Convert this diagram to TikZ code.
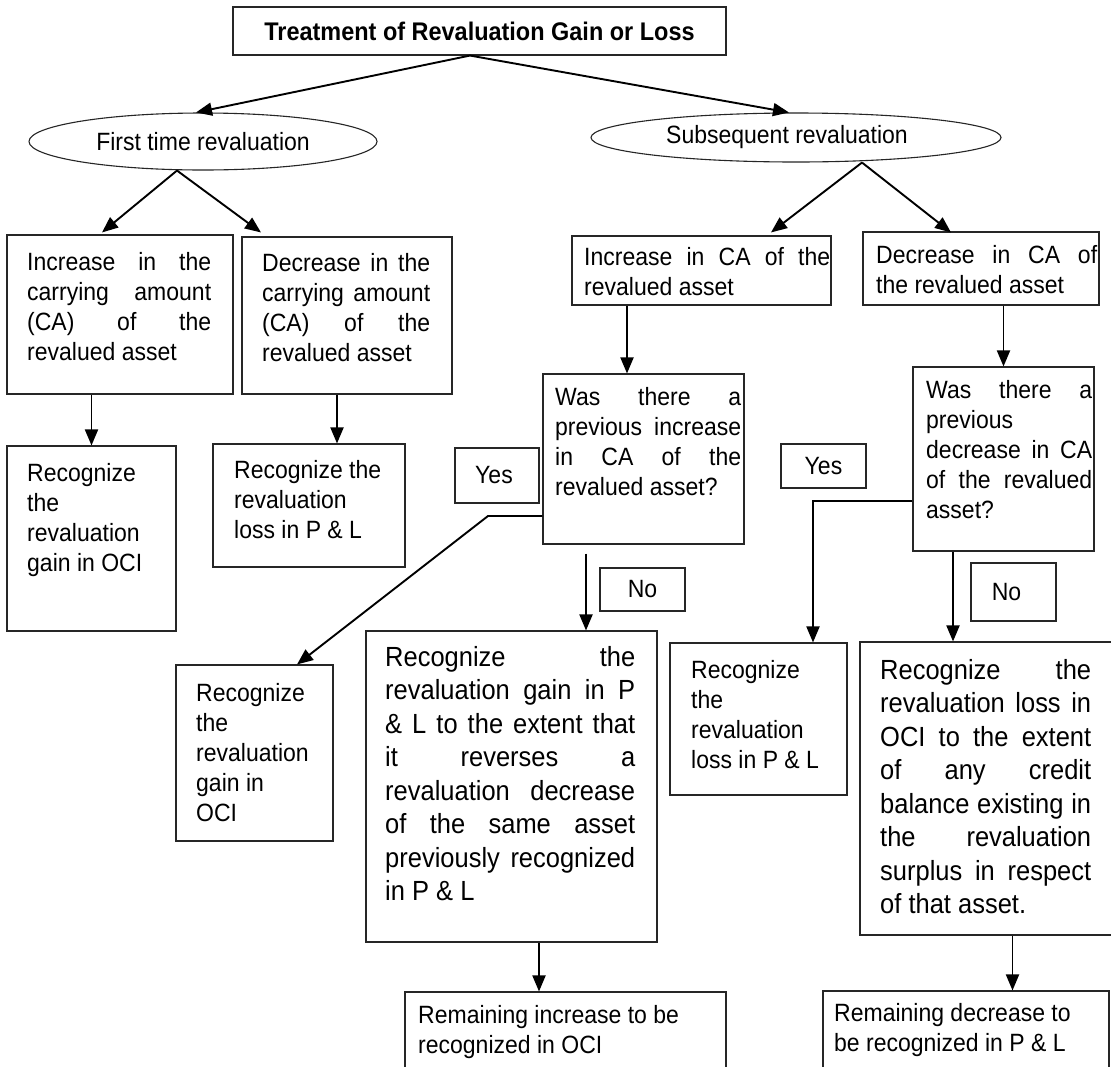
\documentclass[tikz,border=0pt]{standalone}
\usepackage{fontspec}
\setmainfont{Liberation Sans}[FakeStretch=0.92]
\usetikzlibrary{arrows.meta,shapes.geometric}
\newcommand\jl[2]{\hbox to #1pt{\spaceskip=.25em plus 1fil\relax #2}}
\newcommand\bx[5]{\node[box, minimum width={#4-#2}, minimum height={#5-#3}] (#1) at ({(#2+#4)/2},{(#3+#5)/2}) {};}
\tikzset{
 box/.style={draw=black!85, line width=1.1pt, inner sep=0pt},
 arr/.style={line width=1.9pt, -{Triangle[length=16pt,width=13pt]}},
 txt/.style={inner sep=0pt, anchor=north west, align=left, font=\fontsize{25}{30}\selectfont},
 bigtxt/.style={inner sep=0pt, anchor=north west, align=left, font=\fontsize{27.7}{33.5}\selectfont},
 lbl/.style={box, font=\fontsize{25}{28}\selectfont},
 ell/.style={draw=black!85, line width=1.1pt, ellipse, inner sep=0pt, font=\fontsize{25}{28}\selectfont},
}
\begin{document}
\begin{tikzpicture}[x=1pt,y=-1pt]
\clip (0,0) rectangle (1111,1066);
\fill[white] (0,0) rectangle (1111,1066);
% title
\node[box, minimum width=493, minimum height=48, font=\bfseries\fontsize{25.5}{28}\selectfont] (T) at (479.5,31) {Treatment of Revaluation Gain or Loss};
% ellipses
\node[ell, minimum width=348, minimum height=57] (E1) at (203,141.5) {First time revaluation};
\node[ell, minimum width=410, minimum height=49] (E2) at (796,137.5) {Subsequent revaluation\hspace*{18pt}};
% boxes
\bx{A}{7}{235}{233}{394}
\bx{B}{242}{237}{452}{394}
\bx{C}{7}{446}{176}{631}
\bx{D}{213}{444}{405}{567}
\bx{E}{572}{236}{831}{305}
\bx{F}{863}{232}{1099}{305}
\bx{G}{543}{374}{744}{544}
\bx{H}{913}{367}{1094}{551}
\bx{I}{176}{665}{333}{841}
\bx{J}{366}{631}{657}{942}
\bx{K}{670}{643}{847}{795}
\bx{L}{860}{642}{1125}{935}
\bx{M}{405}{992}{726}{1100}
\bx{N}{823}{991}{1109}{1100}
% yes / no labels
\node[lbl, minimum width=84, minimum height=55] (YL) at (497,475.5) {Yes\hspace*{6pt}};
\node[lbl, minimum width=85, minimum height=44] (YR) at (823.5,466) {Yes};
\node[lbl, minimum width=85, minimum height=43] (NL) at (642.5,589.5) {No};
\node[lbl, minimum width=85, minimum height=58] (NR) at (1013.5,592) {No\hspace*{14pt}};
% texts
\node[txt] (At) at (27,249) {\strut\jl{184}{Increase in the}\\\jl{184}{carrying amount}\\\jl{184}{(CA) of the}\\revalued asset};
\node[txt] (Bt) at (262,250) {\strut\jl{168}{Decrease in the}\\\jl{168}{carrying amount}\\\jl{168}{(CA) of the}\\revalued asset};
\node[txt] (Ct) at (27,460) {\strut Recognize\\the\\revaluation\\gain in OCI};
\node[txt] (Dt) at (234,457) {\strut Recognize the\\revaluation\\loss in P \& L};
\node[txt] (Et) at (584,244) {\strut\jl{246}{Increase in CA of the}\\revalued asset};
\node[txt] (Ft) at (876,242) {\strut\jl{221}{Decrease in CA of}\\the revalued asset};
\node[txt] (Gt) at (555,384) {\strut\jl{186}{Was there a}\\\jl{186}{previous increase}\\\jl{186}{in CA of the}\\revalued asset?};
\node[txt] (Ht) at (926,377) {\strut\jl{166}{Was there a}\\previous\\\jl{166}{decrease in CA}\\\jl{166}{of the revalued}\\asset?};
\node[txt] (It) at (196,680) {\strut Recognize\\the\\revaluation\\gain in\\OCI};
\node[txt] (Kt) at (691,657) {\strut Recognize\\the\\revaluation\\loss in P \& L};
\node[bigtxt] (Jt) at (385,642.5) {\strut\jl{250}{Recognize the}\\\jl{250}{revaluation gain in P}\\\jl{250}{\& L to the extent that}\\\jl{250}{it reverses a}\\\jl{250}{revaluation decrease}\\\jl{250}{of the same asset}\\\jl{250}{previously recognized}\\in P \& L};
\node[bigtxt] (Lt) at (880,655.5) {\strut\jl{211}{Recognize the}\\\jl{211}{revaluation loss in}\\\jl{211}{OCI to the extent}\\\jl{211}{of any credit}\\\jl{211}{balance existing in}\\\jl{211}{the revaluation}\\\jl{211}{surplus in respect}\\of that asset.};
\node[txt] (Mt) at (418,1002) {\strut Remaining increase to be\\recognized in OCI};
\node[txt] (Nt) at (834,1000) {\strut Remaining decrease to\\be recognized in P \& L};
% helper coordinates
\coordinate (t0) at ([xshift=-9.5pt]T.south);
\coordinate (b1) at ([xshift=-10pt]B.south);
\coordinate (e1) at ([xshift=-74.5pt]E.south);
\coordinate (g0) at ([yshift=-57pt]G.west);
\coordinate (gb) at (488,516);
\coordinate (g2) at ([xshift=-57.5pt,yshift=-9pt]G.south);
\coordinate (h0) at ([yshift=-42pt]H.west);
\coordinate (h2) at ([xshift=-50.5pt]H.south);
\coordinate (j1) at ([xshift=27.5pt]J.south);
\coordinate (l1) at ([xshift=20pt]L.south);
% connectors
\draw[arr] (t0) -- ([xshift=-7pt]E1.north);
\draw[arr] (t0) -- ([xshift=-7pt]E2.north);
\draw[arr] ([xshift=-26pt]E1.south) -- ([xshift=-18pt,yshift=2pt]A.north);
\draw[arr] ([xshift=-26pt]E1.south) -- ([xshift=-86pt,yshift=4pt]B.north);
\draw[arr] ([xshift=66pt]E2.south) -- ([xshift=69.5pt,yshift=3pt]E.north);
\draw[arr] ([xshift=66pt]E2.south) -- ([xshift=-30pt,yshift=-1pt]F.north);
\draw[arr] (A.south -| C.north) -- (C.north);
\draw[arr] (b1) -- (b1 |- D.north);
\draw[arr] (e1) -- (e1 |- G.north);
\draw[arr] (H.north |- F.south) -- (H.north);
\draw[arr] (g0) -- (gb) -- ([xshift=42.5pt]I.north);
\draw[arr] (g2) -- (g2 |- J.north);
\draw[arr] (h0) -| ([xshift=54.5pt]K.north);
\draw[arr] (h2) -- (h2 |- L.north);
\draw[arr] (j1) -- (j1 |- M.north);
\draw[arr] (l1) -- (l1 |- N.north);
\end{tikzpicture}
\end{document}
